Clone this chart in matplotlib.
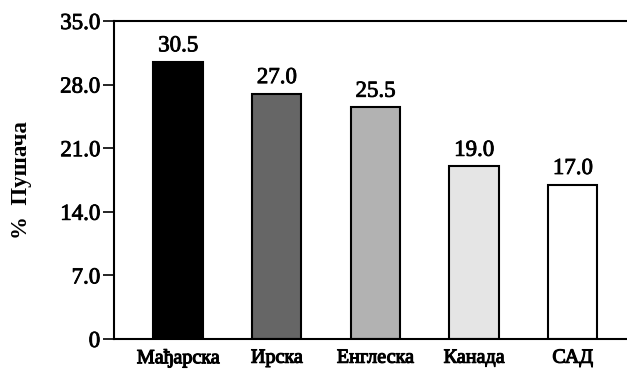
import matplotlib.pyplot as plt
import matplotlib.patheffects as pe

# Удео пушача по земљама
zemlje = ['Мађарска', 'Ирска', 'Енглеска', 'Канада', 'САД']
procenti = [30.5, 27.0, 25.5, 19.0, 17.0]
boje = ['#000000', '#666666', '#b2b2b2', '#e5e5e5', '#ffffff']
y_podeoci = [0, 7.0, 14.0, 21.0, 28.0, 35.0]
y_oznake = ['0', '7.0', '14.0', '21.0', '28.0', '35.0']

plt.rcParams['font.family'] = ['Liberation Serif', 'DejaVu Serif']

# малo дебљи потез за текст
deblje = [pe.withStroke(linewidth=0.6, foreground='black')]

fig = plt.figure(figsize=(6.27, 3.72), dpi=100)
ax = fig.add_axes([114 / 627, 33 / 372, 513 / 627, 318 / 372])

x = range(len(zemlje))
ax.bar(x, procenti, width=0.5, color=boje, edgecolor='black', linewidth=1.5)

for xi, v in zip(x, procenti):
    ax.annotate(f'{v:.1f}', (xi, v), xytext=(0, 4), textcoords='offset points',
                ha='center', va='bottom', fontsize=16.5, path_effects=deblje)

ax.set_xlim(-0.65, 4.55)
ax.set_ylim(0, 35)
ax.set_yticks(y_podeoci)
ax.set_yticklabels(y_oznake, fontsize=16.5, path_effects=deblje)
ax.set_xticks(list(x))
ax.set_xticklabels(zemlje, fontsize=14.5, path_effects=[pe.withStroke(linewidth=0.8, foreground='black')])
ax.tick_params(axis='x', length=0, pad=7)
ax.tick_params(axis='y', length=8, width=1.2, pad=2)

ax.spines['right'].set_visible(False)
for s in ['left', 'top', 'bottom']:
    ax.spines[s].set_linewidth(1.5)

ax.set_ylabel('%  Пушача', fontsize=16.5, fontweight='bold', labelpad=20)

fig.savefig('out.png', dpi=100)
